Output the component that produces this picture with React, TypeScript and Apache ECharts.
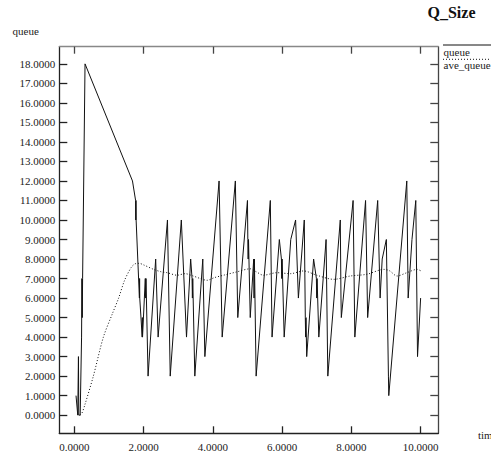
import React, { useEffect, useRef } from "react";
import * as echarts from "echarts";

const title = "Q_Size";
const xName = "time";
const yName = "queue";
const seriesNames = ["queue", "ave_queue"];
const xTicks = [0, 2, 4, 6, 8, 10];
const yTicks = [0, 1, 2, 3, 4, 5, 6, 7, 8, 9, 10, 11, 12, 13, 14, 15, 16, 17, 18];

const queueX = [
  0.05, 0.1, 0.12, 0.13, 0.17, 0.21, 0.22, 0.23, 0.24, 0.31,
  1.68, 1.77, 1.775, 1.78, 1.785, 1.88, 1.885, 1.89, 1.96, 1.965, 1.97,
  2.05, 2.06, 2.07, 2.13, 2.35, 2.42, 2.69, 2.77, 3.09, 3.24,
  3.36, 3.4, 3.41, 3.42, 3.48, 3.71, 3.77, 4.18, 4.27, 4.65, 4.72,
  5.0, 5.01, 5.02, 5.03, 5.08, 5.18, 5.19, 5.2, 5.25, 5.66, 5.71, 5.92,
  5.98, 5.99, 6.0, 6.06, 6.25, 6.39, 6.47, 6.64, 6.67, 6.68, 6.69, 6.71,
  6.91, 6.99, 7.0, 7.01, 7.06, 7.27, 7.32, 7.68, 7.7, 7.71, 8.05, 8.1,
  8.41, 8.47, 8.76, 8.83, 8.89, 9.01, 9.07, 9.08, 9.6, 9.64, 9.75, 9.86,
  9.91, 10.0,
];
const queueY = [
  1, 0, 3, 0, 0, 4, 7, 5, 7, 18,
  12, 11, 10, 11, 10, 6, 7, 6, 4, 5, 4,
  7, 6, 7, 2, 8, 4, 10, 2, 10, 4,
  8, 7, 6, 7, 2, 8, 3, 12, 4, 12, 5,
  11, 9, 8, 9, 5, 8, 6, 8, 2, 11, 4, 9,
  8, 7, 8, 4, 9, 10, 6, 10, 5, 4, 5, 3,
  8, 7, 6, 7, 4, 9, 2, 10, 6, 5, 11, 4,
  11, 5, 11, 6, 8, 9, 2, 1, 12, 6, 9, 11,
  3, 6,
];

const aveX = [
  0.17, 0.22, 0.3, 0.55, 0.84, 1.1, 1.28, 1.45, 1.64, 1.75, 1.87, 2.0,
  2.29, 2.5, 2.68, 2.97, 3.2, 3.4, 3.64, 3.83, 4.05, 4.31, 4.69, 5.08,
  5.25, 5.46, 5.85, 6.24, 6.62, 7.0, 7.49, 7.97, 8.45, 8.94, 9.1, 9.32,
  9.6, 9.9, 10.0,
];
const aveY = [
  0, 0.1, 0.5, 2, 4, 5.2, 6, 6.9, 7.56, 7.75, 7.78, 7.7,
  7.47, 7.35, 7.3, 7.17, 7.25, 7.15, 7.0, 6.91, 7.05, 7.17, 7.34, 7.5,
  7.35, 7.17, 7.3, 7.25, 7.39, 7.17, 6.96, 7.13, 7.22, 7.47, 7.4, 7.13,
  7.3, 7.47, 7.4,
];

const FONT = "Liberation Serif";

export default function App() {
  const ref = useRef<HTMLDivElement>(null);
  useEffect(() => {
    if (!ref.current) return;
    const chart = echarts.init(ref.current, null, { renderer: "svg" });
    const xMin = -0.433, xMax = 10.51, yMin = -0.93, yMax = 18.88;
    const fmt = (v: number) => v.toFixed(4);
    const baseX = {
      type: "value" as const,
      min: xMin,
      max: xMax,
      splitLine: { show: false },
    };
    const baseY = {
      type: "value" as const,
      min: yMin,
      max: yMax,
      splitLine: { show: false },
    };
    chart.setOption({
      animation: false,
      backgroundColor: "#fff",
      textStyle: { fontFamily: FONT },
      grid: { left: 59.3, right: 52.7, top: 46.7, bottom: 21.7, containLabel: false },
      xAxis: [
        {
          ...baseX,
          position: "bottom",
          axisLine: { show: true, onZero: false, lineStyle: { color: "#222", width: 1.3 } },
          axisTick: { show: true, inside: true, length: 7, customValues: xTicks, lineStyle: { color: "#222", width: 1.3 } },
          axisLabel: { show: true, customValues: xTicks, formatter: fmt, color: "#222", fontFamily: FONT, fontSize: 11, margin: 8 },
        },
        {
          ...baseX,
          position: "top",
          axisLine: { show: true, onZero: false, lineStyle: { color: "#888", width: 1.3 } },
          axisTick: { show: true, inside: true, length: 7, customValues: xTicks, lineStyle: { color: "#444", width: 1.3 } },
          axisLabel: { show: false },
        },
      ],
      yAxis: [
        {
          ...baseY,
          position: "left",
          axisLine: { show: true, onZero: false, lineStyle: { color: "#222", width: 1.3 } },
          axisTick: { show: true, inside: true, length: 8, customValues: yTicks, lineStyle: { color: "#222", width: 1.3 } },
          axisLabel: { show: true, customValues: yTicks, formatter: fmt, color: "#222", fontFamily: FONT, fontSize: 11, margin: 4 },
        },
        {
          ...baseY,
          position: "right",
          axisLine: { show: true, onZero: false, lineStyle: { color: "#444", width: 1.3 } },
          axisTick: { show: true, inside: true, length: 8, customValues: yTicks, lineStyle: { color: "#444", width: 1.3 } },
          axisLabel: { show: false },
        },
      ],
      series: [
        {
          name: seriesNames[0],
          type: "line",
          data: queueX.map((x, i) => [x, queueY[i]]),
          showSymbol: false,
          symbol: "none",
          lineStyle: { color: "#111", width: 1 },
          z: 3,
        },
        {
          name: seriesNames[1],
          type: "line",
          data: aveX.map((x, i) => [x, aveY[i]]),
          showSymbol: false,
          symbol: "none",
          smooth: 0.3,
          lineStyle: { color: "#111", width: 1, type: [1, 2] },
          z: 2,
        },
      ],
      graphic: [
        {
          type: "text",
          left: 427.5,
          top: 4,
          style: { text: title, fontFamily: FONT, fontWeight: "bold", fontSize: 16, fill: "#111" },
        },
        {
          type: "text",
          left: 12.5,
          top: 25,
          style: { text: yName, fontFamily: FONT, fontSize: 11, fill: "#222" },
        },
        {
          type: "text",
          left: 478,
          top: 429,
          style: { text: xName, fontFamily: FONT, fontSize: 11, fill: "#222" },
        },
        {
          type: "line",
          shape: { x1: 443, y1: 45, x2: 491, y2: 45 },
          style: { stroke: "#111", lineWidth: 1 },
        },
        {
          type: "text",
          left: 443.5,
          top: 46.5,
          style: { text: seriesNames[0], fontFamily: FONT, fontSize: 11, fill: "#222" },
        },
        {
          type: "line",
          shape: { x1: 443, y1: 59.3, x2: 491, y2: 59.3 },
          style: { stroke: "#111", lineWidth: 1, lineDash: [1, 2] },
        },
        {
          type: "text",
          left: 443.5,
          top: 59,
          style: { text: seriesNames[1], fontFamily: FONT, fontSize: 11, fill: "#222" },
        },
      ],
    });
    return () => chart.dispose();
  }, []);
  return (
    <div
      ref={ref}
      style={{ position: "fixed", left: 0, top: 0, width: 491, height: 455, background: "#fff" }}
    />
  );
}
